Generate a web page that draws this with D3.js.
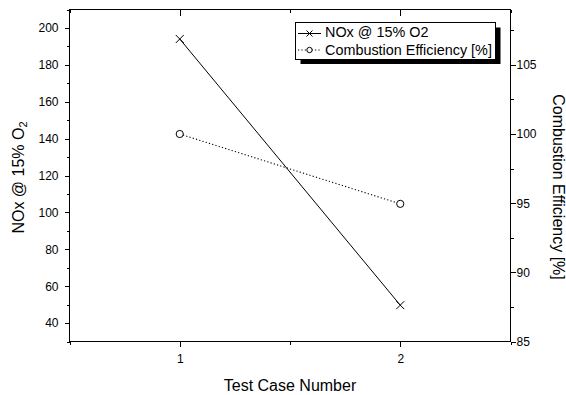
<!DOCTYPE html>
<html>
<head>
<meta charset="utf-8">
<script src="https://cdn.jsdelivr.net/npm/d3@7"></script>
<style>
  html, body { margin: 0; padding: 0; background: #fff; }
  svg { display: block; font-family: "Liberation Sans", Arial, Helvetica, sans-serif; }
</style>
</head>
<body>
<svg id="chart" width="566" height="395"></svg>
<script>
// Test cases and measured results
const testCases = [1, 2];
const noxValues = [194, 49.7];          // NOx @ 15% O2
const efficiencyValues = [100, 94.95];  // Combustion efficiency [%]

// Axis ticks
const xTicks = [1, 2];
const xMinorTicks = [0.5, 1.5, 2.5];
const noxTicks = [40, 60, 80, 100, 120, 140, 160, 180, 200];
const noxMinorTicks = [30, 50, 70, 90, 110, 130, 150, 170, 190, 210];
const effTicks = [85, 90, 95, 100, 105];
const effMinorTicks = [87.5, 92.5, 97.5, 102.5, 107.5];

// Labels
const seriesNames = ["NOx @ 15% O2", "Combustion Efficiency [%]"];
const xTitle = "Test Case Number";
const effTitle = "Combustion Efficiency [%]";

const svg = d3.select("#chart");
const plot = { left: 69.5, right: 510.5, top: 9.5, bottom: 341.5 };

const x = d3.scaleLinear().domain([0.5, 2.5]).range([plot.left, plot.right]);
const yNox = d3.scaleLinear().domain([30, 210]).range([plot.bottom, plot.top]);
const yEff = d3.scaleLinear().domain([85, 109]).range([plot.bottom, plot.top]);

function styleAxis(g) {
  g.select(".domain").remove();
  g.selectAll("line").attr("stroke", "#000").attr("stroke-width", 1).attr("shape-rendering", "crispEdges");
  g.selectAll("text").attr("fill", "#000").attr("font-size", 12)
    .attr("font-family", "\"Liberation Sans\", Arial, sans-serif");
}

// Bottom axis
svg.append("g").attr("transform", `translate(0,${plot.bottom})`)
  .call(d3.axisBottom(x).tickValues(xTicks).tickFormat(d3.format("d")).tickSize(5).tickSizeOuter(0).tickPadding(8))
  .call(styleAxis);
svg.append("g").attr("transform", `translate(0,${plot.bottom})`)
  .call(d3.axisBottom(x).tickValues(xMinorTicks).tickFormat("").tickSize(3).tickSizeOuter(0))
  .call(styleAxis);

// Top axis (inward ticks, no labels)
svg.append("g").attr("transform", `translate(0,${plot.top})`)
  .call(d3.axisTop(x).tickValues(xTicks).tickFormat("").tickSize(-6).tickSizeOuter(0))
  .call(styleAxis);
svg.append("g").attr("transform", `translate(0,${plot.top})`)
  .call(d3.axisTop(x).tickValues(xMinorTicks).tickFormat("").tickSize(-3).tickSizeOuter(0))
  .call(styleAxis);

// Left axis: NOx
svg.append("g").attr("transform", `translate(${plot.left},0)`)
  .call(d3.axisLeft(yNox).tickValues(noxTicks).tickSize(5).tickSizeOuter(0).tickPadding(6))
  .call(styleAxis);
svg.append("g").attr("transform", `translate(${plot.left},0)`)
  .call(d3.axisLeft(yNox).tickValues(noxMinorTicks).tickFormat("").tickSize(3).tickSizeOuter(0))
  .call(styleAxis);

// Right axis: efficiency
svg.append("g").attr("transform", `translate(${plot.right},0)`)
  .call(d3.axisRight(yEff).tickValues(effTicks).tickSize(5).tickSizeOuter(0).tickPadding(1))
  .call(styleAxis);
svg.append("g").attr("transform", `translate(${plot.right},0)`)
  .call(d3.axisRight(yEff).tickValues(effMinorTicks).tickFormat("").tickSize(3).tickSizeOuter(0))
  .call(styleAxis);

// Plot frame
svg.append("rect")
  .attr("x", plot.left).attr("y", plot.top)
  .attr("width", plot.right - plot.left).attr("height", plot.bottom - plot.top)
  .attr("fill", "none").attr("stroke", "#000").attr("stroke-width", 1)
  .attr("shape-rendering", "crispEdges");

// Axis titles
svg.append("text")
  .attr("x", (plot.left + plot.right) / 2).attr("y", 391)
  .attr("text-anchor", "middle").attr("font-size", 16).attr("fill", "#000")
  .text(xTitle);

const noxTitle = svg.append("text")
  .attr("transform", `translate(24,${(plot.top + plot.bottom) / 2 + 2}) rotate(-90)`)
  .attr("text-anchor", "middle").attr("font-size", 16).attr("fill", "#000");
noxTitle.append("tspan").text("NOx @ 15% O");
noxTitle.append("tspan").attr("font-size", 11).attr("dy", 3).text("2");

svg.append("text")
  .attr("transform", `translate(553,187) rotate(90)`)
  .attr("text-anchor", "middle").attr("font-size", 16).attr("fill", "#000")
  .text(effTitle);

// Data series
const noxData = testCases.map((t, i) => ({ x: t, y: noxValues[i] }));
const effData = testCases.map((t, i) => ({ x: t, y: efficiencyValues[i] }));

svg.append("path").datum(noxData)
  .attr("fill", "none").attr("stroke", "#000").attr("stroke-width", 1)
  .attr("d", d3.line().x(d => x(d.x)).y(d => yNox(d.y)));

svg.append("path").datum(effData)
  .attr("fill", "none").attr("stroke", "#000").attr("stroke-width", 1.1)
  .attr("stroke-dasharray", "1.2,2.2")
  .attr("d", d3.line().x(d => x(d.x)).y(d => yEff(d.y)));

const crossPath = s => `M${-s},${-s}L${s},${s}M${-s},${s}L${s},${-s}`;

svg.append("g").selectAll("path").data(noxData).join("path")
  .attr("transform", d => `translate(${x(d.x)},${yNox(d.y)})`)
  .attr("d", crossPath(4))
  .attr("fill", "none").attr("stroke", "#000").attr("stroke-width", 1);

svg.append("g").selectAll("circle").data(effData).join("circle")
  .attr("cx", d => x(d.x)).attr("cy", d => yEff(d.y)).attr("r", 3.6)
  .attr("fill", "#fff").attr("stroke", "#000").attr("stroke-width", 1);

// Legend with drop shadow
const legend = svg.append("g");
const lg = { x: 295.5, y: 22.5, w: 200, h: 36.5, shadow: 5 };
legend.append("rect")
  .attr("x", lg.x + lg.shadow).attr("y", lg.y + lg.shadow)
  .attr("width", lg.w).attr("height", lg.h).attr("fill", "#000");
legend.append("rect")
  .attr("x", lg.x).attr("y", lg.y).attr("width", lg.w).attr("height", lg.h)
  .attr("fill", "#fff").attr("stroke", "#000").attr("stroke-width", 1)
  .attr("shape-rendering", "crispEdges");

const symX0 = 298, symX1 = 321, symXc = 309.5;
const rowY = [33.5, 50];

legend.append("line").attr("x1", symX0).attr("x2", symX1).attr("y1", rowY[0]).attr("y2", rowY[0])
  .attr("stroke", "#000").attr("stroke-width", 1);
legend.append("path").attr("transform", `translate(${symXc},${rowY[0]})`)
  .attr("d", crossPath(3)).attr("fill", "none").attr("stroke", "#000").attr("stroke-width", 1);

legend.append("line").attr("x1", symX0).attr("x2", symX1).attr("y1", rowY[1]).attr("y2", rowY[1])
  .attr("stroke", "#000").attr("stroke-width", 1.1).attr("stroke-dasharray", "1.2,2.2");
legend.append("circle").attr("cx", symXc).attr("cy", rowY[1]).attr("r", 2.7)
  .attr("fill", "#fff").attr("stroke", "#000").attr("stroke-width", 1);

legend.selectAll("text.item").data(seriesNames).join("text")
  .attr("class", "item")
  .attr("x", 325).attr("y", (d, i) => [37.3, 55][i])
  .attr("font-size", 14.4).attr("fill", "#000")
  .text(d => d);
</script>
</body>
</html>
